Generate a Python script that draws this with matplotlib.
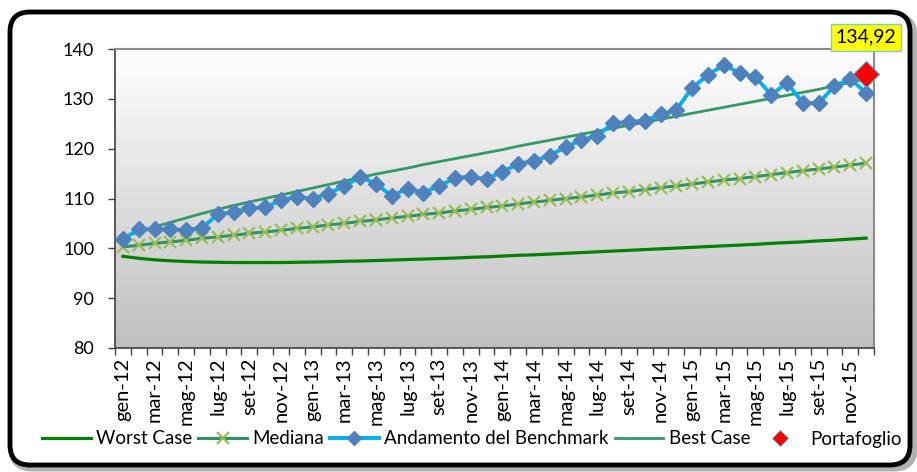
import numpy as np
import matplotlib
matplotlib.use("Agg")
import matplotlib.pyplot as plt
from matplotlib.patches import FancyBboxPatch
from matplotlib.lines import Line2D
from matplotlib.transforms import IdentityTransform

plt.rcParams['font.family'] = ['Lato', 'DejaVu Sans']

# month labels (gen-12 .. dic-15)
mesi = ['gen', 'feb', 'mar', 'apr', 'mag', 'giu', 'lug', 'ago', 'set', 'ott', 'nov', 'dic']
anni = ['12', '13', '14', '15']
categorie = [m + '-' + a for a in anni for m in mesi]

benchmark = [101.8, 103.8, 103.8, 103.8, 103.7, 104.1, 106.8, 107.3, 108.0, 108.2, 109.7, 110.3,
             110.0, 111.0, 112.5, 114.3, 113.0, 110.5, 112.0, 111.2, 112.5, 114.1, 114.4, 113.9,
             115.4, 116.9, 117.6, 118.6, 120.4, 121.7, 122.6, 125.1, 125.4, 125.6, 126.9, 127.8,
             132.2, 134.8, 136.8, 135.2, 134.4, 130.8, 133.2, 129.2, 129.1, 132.6, 134.0, 131.2]

mediana = [100.3, 100.6, 101.0, 101.3, 101.6, 102.0, 102.3, 102.6, 103.0, 103.3, 103.6, 104.0,
           104.3, 104.7, 105.0, 105.4, 105.7, 106.1, 106.4, 106.8, 107.1, 107.5, 107.8, 108.2,
           108.5, 108.9, 109.3, 109.6, 110.0, 110.3, 110.7, 111.1, 111.4, 111.8, 112.2, 112.5,
           112.9, 113.3, 113.7, 114.0, 114.4, 114.8, 115.2, 115.6, 115.9, 116.3, 116.7, 117.1]

best_case = [102.3, 103.3, 104.3, 105.2, 106.1, 107.0, 107.8, 108.6, 109.3, 110.0, 110.7, 111.4,
             112.1, 112.8, 113.5, 114.2, 114.9, 115.5, 116.1, 116.8, 117.4, 118.0, 118.6, 119.2,
             119.8, 120.5, 121.1, 121.7, 122.3, 122.9, 123.5, 124.1, 124.7, 125.3, 125.9, 126.5,
             127.1, 127.7, 128.3, 128.9, 129.5, 130.1, 130.7, 131.3, 131.9, 132.6, 133.3, 134.0]

worst_case = [98.4, 98.0, 97.7, 97.5, 97.35, 97.25, 97.2, 97.15, 97.15, 97.15, 97.15, 97.2,
              97.25, 97.3, 97.4, 97.45, 97.55, 97.65, 97.75, 97.85, 97.95, 98.05, 98.2, 98.3,
              98.45, 98.6, 98.7, 98.85, 99.0, 99.15, 99.3, 99.45, 99.6, 99.75, 99.9, 100.05,
              100.2, 100.35, 100.5, 100.65, 100.8, 101.0, 101.15, 101.3, 101.5, 101.65, 101.85, 102.05]

portafoglio = 134.92
portafoglio_label = '134,92'

x = np.arange(len(categorie))

fig = plt.figure(figsize=(9.17, 4.72), dpi=100)
W, H = 917, 472

# outer rounded frame with a soft shadow
shadow = FancyBboxPatch((12, 4), 902, 452, boxstyle="round,pad=0,rounding_size=20",
                        transform=IdentityTransform(), facecolor='none',
                        edgecolor='#b0b0b0', linewidth=5, zorder=-3)
frame = FancyBboxPatch((10, 7), 900, 453, boxstyle="round,pad=0,rounding_size=20",
                       transform=IdentityTransform(), facecolor='white',
                       edgecolor='black', linewidth=3.5, zorder=-2)
fig.patches.extend([shadow, frame])

ax = fig.add_axes([115 / W, 1 - 348 / H, (874 - 115) / W, (348 - 49) / H])
ax.set_facecolor('none')

# gradient background of the plot area
grad = np.linspace(0, 1, 256).reshape(-1, 1)
ax.imshow(grad, extent=(-0.5, len(x) - 0.5, 80, 140), aspect='auto',
          cmap=matplotlib.colors.LinearSegmentedColormap.from_list('g', ['#bfbfbf', '#ffffff']),
          origin='lower', zorder=0)

ax.plot(x, worst_case, color='#008000', lw=2.3, zorder=3, label='Worst Case')
ax.plot(x, mediana, color='#2E9464', lw=2.2, marker='x', markersize=9, markeredgewidth=1.6,
        markeredgecolor='#9BBB59', zorder=3, label='Mediana')
ax.plot(x, benchmark, color='#00B0F0', lw=2.8, marker='D', markersize=8.5,
        markerfacecolor='#4F81BD', markeredgecolor='#4F81BD', zorder=4,
        label='Andamento del Benchmark')
ax.plot(x, best_case, color='#339966', lw=2.0, zorder=3, label='Best Case')
ax.plot([x[-1]], [portafoglio], linestyle='none', marker='D', markersize=13,
        markerfacecolor='#FF0000', markeredgecolor='#4BACC6', markeredgewidth=0.8,
        zorder=5, label='Portafoglio', clip_on=False)

ax.annotate(portafoglio_label, xy=(x[-1], portafoglio), xytext=(0, 37), textcoords='offset pixels',
            ha='center', va='center', fontsize=14, annotation_clip=False, zorder=6,
            bbox=dict(boxstyle='square,pad=0.25', facecolor='#FFFF00', edgecolor='#7FC8D8', lw=1))

ax.set_xlim(-0.5, len(x) - 0.5)
ax.set_ylim(80, 140)
ax.set_yticks(np.arange(80, 141, 10))
ax.tick_params(axis='y', direction='out', length=5, width=1, colors='#404040',
               labelsize=13, labelcolor='black', pad=10)

# category ticks between months, labels every two months
ax.set_xticks(np.arange(-0.5, len(x), 1), minor=False)
ax.set_xticklabels([])
ax.set_xticks(x[::2], minor=True)
ax.set_xticklabels(categorie[::2], minor=True, rotation=90)
ax.tick_params(axis='x', which='major', direction='out', length=5, width=1, colors='#404040')
ax.tick_params(axis='x', which='minor', length=0, pad=7, labelcolor='black', labelsize=14.5)

for s in ['top', 'right']:
    ax.spines[s].set_color('#8c8c8c')
    ax.spines[s].set_linewidth(1.5)
ax.spines['left'].set_color('#404040')
ax.spines['bottom'].set_color('#404040')
ax.spines['left'].set_linewidth(1.2)
ax.spines['bottom'].set_linewidth(1.2)

handles = [
    Line2D([], [], color='#008000', lw=2.3),
    Line2D([], [], color='#2E9464', lw=2.2, marker='x', markersize=9, markeredgewidth=1.6,
           markeredgecolor='#9BBB59'),
    Line2D([], [], color='#00B0F0', lw=2.8, marker='D', markersize=7,
           markerfacecolor='#4F81BD', markeredgecolor='#4F81BD'),
    Line2D([], [], color='#339966', lw=2.0),
    Line2D([], [], linestyle='none', marker='D', markersize=8,
           markerfacecolor='#FF0000', markeredgecolor='#4BACC6', markeredgewidth=0.6),
]
labels = ['Worst Case', 'Mediana', 'Andamento del Benchmark', 'Best Case', 'Portafoglio']
fig.legend(handles, labels, loc='center', bbox_to_anchor=(472 / W, 1 - 439 / H), ncol=5,
           frameon=False, fontsize=13.5, handlelength=2.6, handletextpad=0.3,
           columnspacing=0.3, borderaxespad=0)

fig.savefig('out.png', dpi=100)
